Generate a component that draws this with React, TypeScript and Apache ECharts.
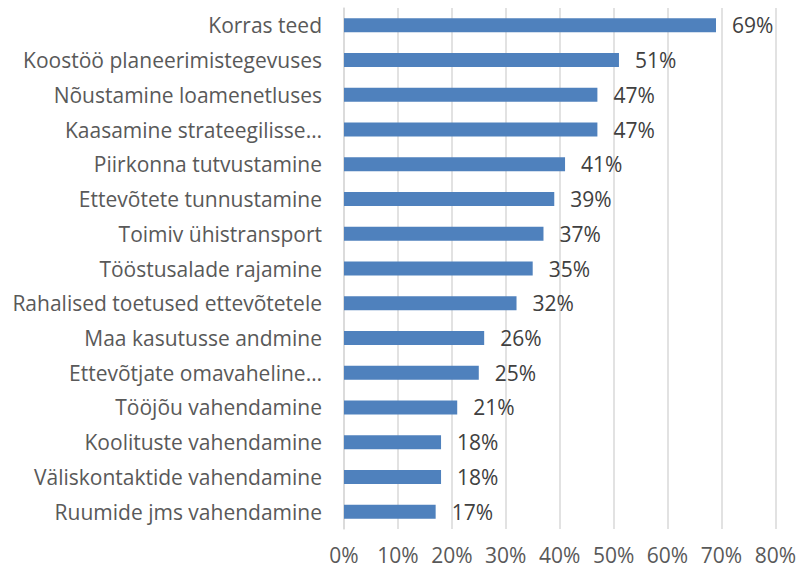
import React, { useEffect, useRef } from "react";
import * as echarts from "echarts";

const categories = [
  "Korras teed",
  "Koostöö planeerimistegevuses",
  "Nõustamine loamenetluses",
  "Kaasamine strateegilisse…",
  "Piirkonna tutvustamine",
  "Ettevõtete tunnustamine",
  "Toimiv ühistransport",
  "Tööstusalade rajamine",
  "Rahalised toetused ettevõtetele",
  "Maa kasutusse andmine",
  "Ettevõtjate omavaheline…",
  "Tööjõu vahendamine",
  "Koolituste vahendamine",
  "Väliskontaktide vahendamine",
  "Ruumide jms vahendamine",
];
const values = [69, 51, 47, 47, 41, 39, 37, 35, 32, 26, 25, 21, 18, 18, 17];

export default function App() {
  const ref = useRef<HTMLDivElement>(null);
  useEffect(() => {
    if (!ref.current) return;
    const chart = echarts.init(ref.current, null, { renderer: "svg" });
    const font = "'Open Sans', sans-serif";
    chart.setOption({
      animation: false,
      grid: { left: 344, right: 22, top: 8, bottom: 41, containLabel: false },
      xAxis: {
        type: "value",
        min: 0,
        max: 80,
        interval: 10,
        axisLine: { show: false },
        axisTick: { show: false },
        splitLine: { show: true, lineStyle: { color: "#d9d9d9", width: 1.5 } },
        axisLabel: {
          formatter: "{value}%",
          color: "#595959",
          fontSize: 21,
          fontFamily: font,
          margin: 15,
        },
      },
      yAxis: {
        type: "category",
        data: categories,
        inverse: true,
        axisLine: { show: true, lineStyle: { color: "#d9d9d9", width: 1.5 } },
        axisTick: { show: false },
        axisLabel: {
          color: "#595959",
          fontSize: 21,
          fontFamily: font,
          margin: 22,
        },
      },
      series: [
        {
          type: "bar",
          data: values,
          barWidth: 14,
          itemStyle: { color: "#4F81BD" },
          label: {
            show: true,
            position: "right",
            distance: 16,
            formatter: "{c}%",
            color: "#404040",
            fontSize: 21,
            fontFamily: font,
          },
        },
      ],
    });
    return () => chart.dispose();
  }, []);
  return (
    <div
      ref={ref}
      style={{ position: "fixed", left: 0, top: 0, width: 799, height: 570, background: "#fff" }}
    />
  );
}
